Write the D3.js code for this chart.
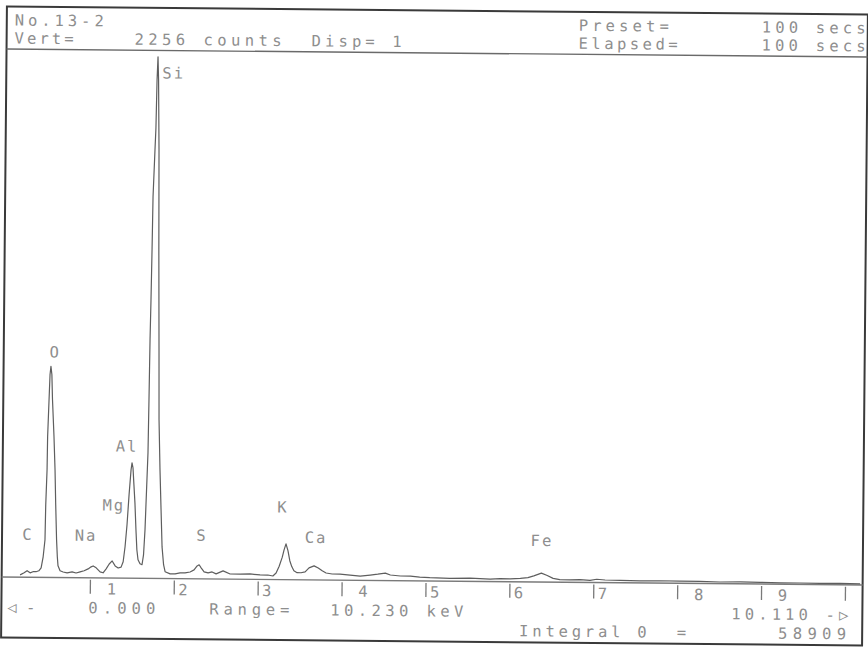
<!DOCTYPE html>
<html><head><meta charset="utf-8">
<script src="https://cdn.jsdelivr.net/npm/d3@7"></script>
<style>
html,body{margin:0;padding:0;background:#fff;}
svg text{font-family:"DejaVu Sans Mono","Liberation Mono",monospace;font-size:15.5px;fill:#8e8e8e;white-space:pre;}
</style></head><body>
<svg id="chart" width="868" height="649" xmlns="http://www.w3.org/2000/svg"></svg>
<script>
// ---------- data ----------
const energyKeV = [0.167,0.215,0.250,0.286,0.320,0.357,0.390,0.417,0.430,0.440,0.460,0.465,0.477,0.480,0.493,0.502,0.512,0.524,0.534,0.556,0.572,0.584,0.598,0.609,0.618,0.643,0.680,0.727,0.787,0.834,0.882,0.930,0.977,1.013,1.037,1.073,1.120,1.156,1.192,1.228,1.263,1.299,1.335,1.370,1.394,1.415,1.436,1.457,1.478,1.489,1.501,1.514,1.528,1.543,1.556,1.571,1.595,1.619,1.636,1.651,1.665,1.678,1.684,1.690,1.697,1.704,1.710,1.728,1.737,1.745,1.754,1.763,1.776,1.785,1.798,1.806,1.823,1.840,1.856,1.876,1.895,1.955,2.014,2.074,2.133,2.193,2.240,2.276,2.300,2.324,2.360,2.408,2.455,2.503,2.586,2.670,2.790,2.908,3.027,3.120,3.180,3.218,3.254,3.290,3.310,3.333,3.357,3.380,3.404,3.430,3.468,3.516,3.564,3.610,3.670,3.720,3.767,3.814,3.886,3.980,4.100,4.220,4.340,4.430,4.520,4.580,4.700,4.820,4.930,5.050,5.290,5.530,5.770,5.890,6.010,6.130,6.220,6.290,6.380,6.450,6.520,6.600,6.720,6.840,6.960,7.040,7.140,7.320,7.560,7.790,8.030,8.270,8.510,8.750,8.990,9.230,9.460,9.700,9.940,10.180];
const countsValues = [10,19,28,19,24,24,28,41,67,88,161,310,460,601,760,867,902,867,760,601,460,310,161,88,50,29,24,20,25,20,25,30,38,47,51,43,26,22,39,60,73,52,43,47,70,134,228,356,463,493,472,399,322,207,122,79,62,58,100,208,379,537,763,1020,1190,1404,1631,1831,1926,2131,2229,2131,1831,1404,977,678,464,294,135,59,29,20,20,25,25,29,38,55,60,47,30,26,30,22,35,22,22,23,19,19,15,28,57,96,126,153,124,81,56,38,30,30,34,51,60,51,39,30,26,26,22,18,23,27,32,24,20,20,16,14,12,14,10,13,12,15,18,26,38,28,16,11,10,12,9,14,11,10,9,10,9,9,7,8,7,6,6,5,6,5];
const tickValuesKeV = [1,2,3,4,5,6,7,8,9,10];
const tickLabels = [" 1","2","3"," 4","5","6","7"," 8"," 9",""];
const elementNames = ["C","O","Na","Mg","Al","Si","S","K","Ca","Fe"];
const elementEnergies = [0.277,0.525,1.041,1.254,1.487,1.740,2.308,3.313,3.691,6.404];
const headerTexts = ["No.13-2","Vert=","2256 counts","Disp= 1","Preset=","100 secs","Elapsed=","100 secs"];
const footerTexts = ["\u25C1-","0.000","Range=","10.230 keV","10.110 -\u25B7","Integral 0  =","58909"];
const rangeKeV = 10.23;
const vertCounts = 2256;

// ---------- drawing ----------
const svg = d3.select("#chart");
const root = svg.append("g").attr("transform","rotate(0.53,434,325)");

const frame = {l:4, r:865, t:10.5, b:641.5, head:53, axis:581};
const x = d3.scaleLinear().domain([0, rangeKeV]).range([8.4, 8.4 + 83.9*rangeKeV]);
const y = d3.scaleLinear().domain([0, vertCounts]).range([frame.axis, frame.head]);

// frame
root.append("rect").attr("x",frame.l).attr("y",frame.t)
  .attr("width",frame.r-frame.l).attr("height",frame.b-frame.t)
  .attr("fill","none").attr("stroke","#3a3a3a").attr("stroke-width",2);
// header separator
root.append("line").attr("x1",frame.l).attr("x2",frame.r)
  .attr("y1",frame.head).attr("y2",frame.head)
  .attr("stroke","#6a6a6a").attr("stroke-width",1.4);

// axis baseline
root.append("line").attr("x1",frame.l).attr("x2",frame.r)
  .attr("y1",frame.axis).attr("y2",frame.axis)
  .attr("stroke","#7a7a7a").attr("stroke-width",1.4);

// spectrum
const pts = energyKeV.map((e,i)=>[e, countsValues[i]]);
const line = d3.line().x(d=>x(d[0])).y(d=>y(d[1]));
root.append("path").datum(pts).attr("d",line)
  .attr("fill","none").attr("stroke","#5e5e5e").attr("stroke-width",1.2)
  .attr("stroke-linejoin","round");

// ticks
const axis = d3.axisBottom(x).tickValues(tickValuesKeV)
  .tickSizeInner(16).tickSizeOuter(0).tickPadding(0)
  .tickFormat((d,i)=>tickLabels[i]);
const ag = root.append("g").attr("transform",`translate(0,${frame.axis})`).call(axis);
ag.attr("font-family",null).attr("font-size",null);
ag.select(".domain").remove();
ag.selectAll(".tick line").attr("stroke","#7a7a7a").attr("stroke-width",1.3).attr("y1",2);
ag.selectAll(".tick text").attr("x",4).attr("y",16.5).attr("dy",null)
  .attr("text-anchor","start").attr("xml:space","preserve")
  .style("letter-spacing","3px");

// element labels
const labelLayout = {C:[-1.6,543.5],O:[3,361],Na:[-7.7,544],Mg:[2,513.5],Al:[-5,454.5],Si:[17,81],S:[2,543],K:[-1.7,514],Ca:[0,544],Fe:[-1.7,545]};
root.append("g").selectAll("text").data(elementNames).join("text")
  .attr("x",(d,i)=>x(elementEnergies[i]) + labelLayout[d][0])
  .attr("y",d=>labelLayout[d][1])
  .attr("text-anchor","middle")
  .style("letter-spacing","2px")
  .text(d=>d);

// header & footer texts: [x, baseline, inkWidth]
const headerLayout = [[12,29.5,87],[12,47.5,57],[132,47.5,145],[309,47.5,88],[576,29.5,88],[759,29.5,102],[576,47.5,97],[759,47.5,102]];
const footerLayout = [[10,616.5,26],[91,616.5,65],[212,616.5,78],[333,616.5,131],[734,616.5,115],[522,635.5,165],[781,635.5,66]];
function putTexts(texts, layout){
  root.append("g").selectAll("text").data(texts).join("text")
    .attr("x",(d,i)=>layout[i][0]).attr("y",(d,i)=>layout[i][1])
    .attr("textLength",(d,i)=>layout[i][2]+2).attr("lengthAdjust","spacing")
    .attr("xml:space","preserve")
    .text(d=>d);
}
putTexts(headerTexts, headerLayout);
putTexts(footerTexts, footerLayout);
</script>
</body></html>
